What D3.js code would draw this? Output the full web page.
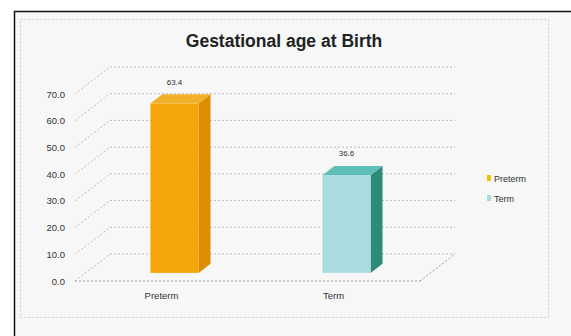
<!DOCTYPE html>
<html><head><meta charset="utf-8">
<script src="https://cdn.jsdelivr.net/npm/d3@7"></script>
<style>body{margin:0;background:#fff}svg{display:block}</style>
</head><body>
<script>
const categories = ["Preterm", "Term"];
const values = [63.4, 36.6];
const valueLabels = ["63.4", "36.6"];
const tickValues = [0, 10, 20, 30, 40, 50, 60, 70];
const title = "Gestational age at Birth";

const W = 571, H = 336;
const svg = d3.select("body").append("svg").attr("width", W).attr("height", H);

// chart frame
svg.append("rect").attr("x", 14.5).attr("y", 11.5).attr("width", 570).attr("height", 340)
  .attr("fill", "#f7f7f7").attr("stroke", "#111").attr("stroke-width", 1.5);
svg.append("rect").attr("x", 20.5).attr("y", 19.5).attr("width", 528).attr("height", 298)
  .attr("fill", "none").attr("stroke", "#ccc").attr("stroke-dasharray", "2,2");

svg.append("text").attr("x", 284).attr("y", 47).attr("text-anchor", "middle")
  .attr("font-family", "Liberation Sans, Arial, sans-serif").attr("font-weight", "bold")
  .attr("font-size", 17.5).attr("fill", "#222").text(title);

// 3D geometry
const depthDX = 35, depthDY = -27;
const x0 = 75, x1 = 420;           // front floor edge
const yFront = d3.scaleLinear().domain([0, 70]).range([281, 94]);
const yBack = v => yFront(v) + depthDY;

const grid = svg.append("g").attr("stroke", "#bbb").attr("stroke-width", 1).attr("stroke-dasharray", "2,2").attr("fill", "none");
tickValues.forEach(t => {
  grid.append("line").attr("x1", x0 + depthDX).attr("x2", x1 + depthDX)
    .attr("y1", yBack(t)).attr("y2", yBack(t));
  grid.append("line").attr("x1", x0).attr("y1", yFront(t))
    .attr("x2", x0 + depthDX).attr("y2", yBack(t));
});
grid.append("line").attr("x1", x0).attr("x2", x1).attr("y1", yFront(0)).attr("y2", yFront(0)).attr("stroke", "#999");
grid.append("line").attr("x1", x1).attr("y1", yFront(0)).attr("x2", x1 + depthDX).attr("y2", yBack(0)).attr("stroke", "#999");

// axis labels
const axis = d3.axisLeft(yFront).tickValues(tickValues).tickFormat(d3.format(".1f")).tickSize(0).tickPadding(10);
const ag = svg.append("g").attr("transform", `translate(${x0},0)`).call(axis);
ag.select(".domain").remove();
ag.selectAll("text").attr("font-family", "Liberation Sans, Arial, sans-serif").attr("font-size", 9.5).attr("fill", "#333");

// bars
const xBand = d3.scaleBand().domain(categories).range([88, 432]).paddingInner(0.72).paddingOuter(0.36);
const barFrac = 0.3, barDepth = 0.34;
const bdx = depthDX * barFrac, bdy = depthDY * barFrac;
const ddx = depthDX * barDepth, ddy = depthDY * barDepth;
const yBar = v => yFront(v) + bdy;
const colors = [
  {front: "#f5a70a", side: "#de8c00", top: "#f2b02a", legend: "#f5c000"},
  {front: "#a9dcdf", side: "#2c8a78", top: "#5fbfb8", legend: "#a9dcdf"}
];
categories.forEach((c, i) => {
  const xl = xBand(c) + bdx - 10, xr = xl + xBand.bandwidth();
  const yt = yBar(values[i]), yb = yBar(0);
  const g = svg.append("g");
  g.append("path").attr("fill", colors[i].side)
    .attr("d", `M${xr},${yt}L${xr + ddx},${yt + ddy}L${xr + ddx},${yb + ddy}L${xr},${yb}Z`);
  g.append("path").attr("fill", colors[i].top)
    .attr("d", `M${xl},${yt}L${xl + ddx},${yt + ddy}L${xr + ddx},${yt + ddy}L${xr},${yt}Z`);
  g.append("rect").attr("x", xl).attr("y", yt).attr("width", xr - xl).attr("height", yb - yt).attr("fill", colors[i].front);
  svg.append("text").attr("x", (xl + xr) / 2).attr("y", yt - 19).attr("text-anchor", "middle")
    .attr("font-family", "Liberation Sans, Arial, sans-serif").attr("font-size", 8).attr("fill", "#333").text(valueLabels[i]);
  svg.append("text").attr("x", (xl + xr) / 2 - 13).attr("y", 299).attr("text-anchor", "middle")
    .attr("font-family", "Liberation Sans, Arial, sans-serif").attr("font-size", 9.5).attr("fill", "#333").text(c);
});

// legend
categories.forEach((c, i) => {
  const ly = 179 + i * 20;
  svg.append("rect").attr("x", 487).attr("y", ly - 4).attr("width", 4).attr("height", 6).attr("fill", colors[i].legend);
  svg.append("text").attr("x", 494).attr("y", ly + 3).attr("font-family", "Liberation Sans, Arial, sans-serif")
    .attr("font-size", 9).attr("fill", "#333").text(c);
});
</script>
</body></html>
